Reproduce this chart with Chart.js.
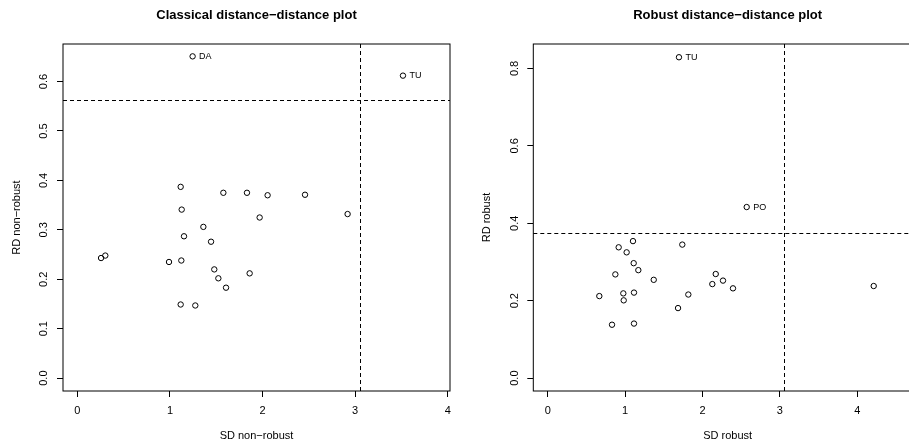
<!DOCTYPE html>
<html>
<head>
<meta charset="utf-8">
<script src="https://cdn.jsdelivr.net/npm/chart.js@4"></script>
<style>
  html, body { margin: 0; padding: 0; background: #fff; overflow: hidden; width: 909px; height: 443px; }
  #left { position: absolute; left: 0; top: 0; }
  #right { position: absolute; left: 460px; top: 0; }
</style>
</head>
<body>
<canvas id="left" width="460" height="443"></canvas>
<canvas id="right" width="472" height="443"></canvas>
<script>
// classical (non-robust) distances
const sdClassical = [1.245, 3.517, 1.116, 1.127, 1.577, 1.832, 2.055, 2.459, 2.919, 1.969, 1.361, 1.152,
  1.444, 0.256, 0.302, 0.990, 1.123, 1.479, 1.523, 1.861, 1.606, 1.116, 1.274];
const rdClassical = [0.651, 0.612, 0.387, 0.341, 0.375, 0.375, 0.370, 0.371, 0.332, 0.325, 0.306, 0.287,
  0.276, 0.243, 0.248, 0.235, 0.238, 0.220, 0.202, 0.212, 0.183, 0.149, 0.147];
const namesClassical = ['DA', 'TU'];

// robust distances
const sdRobust = [1.696, 2.571, 1.102, 0.917, 1.020, 1.739, 1.111, 1.171, 0.874, 1.370, 2.171, 2.265,
  2.127, 2.394, 4.212, 0.667, 0.977, 0.982, 1.115, 1.817, 1.684, 0.831, 1.115];
const rdRobust = [0.829, 0.442, 0.354, 0.338, 0.325, 0.345, 0.297, 0.279, 0.268, 0.254, 0.269, 0.252,
  0.243, 0.232, 0.238, 0.212, 0.219, 0.201, 0.221, 0.216, 0.181, 0.138, 0.141];
const namesRobust = ['TU', 'PO'];

// cutoffs
const sdCutoff = 3.057;
const rdCutoffClassical = 0.562;
const rdCutoffRobust = 0.375;

// tick labels
const xTicks = [0, 1, 2, 3, 4];
const yTicksClassical = [0.0, 0.1, 0.2, 0.3, 0.4, 0.5, 0.6];
const yTicksRobust = [0.0, 0.2, 0.4, 0.6, 0.8];

Chart.defaults.font.family = '"Liberation Sans", Arial, Helvetica, sans-serif';
Chart.defaults.color = '#000';

const ddPlugin = (names, xCut, yCut) => ({
  id: 'dd',
  beforeDatasetsDraw: (chart) => {
    const { ctx, chartArea: a, scales: { x, y } } = chart;
    const px = Math.round(x.getPixelForValue(xCut)) + 0.5;
    const py = Math.round(y.getPixelForValue(yCut)) + 0.5;
    ctx.save();
    ctx.strokeStyle = '#000';
    ctx.lineWidth = 1;
    ctx.setLineDash([4, 3]);
    ctx.beginPath();
    ctx.moveTo(px, a.top);
    ctx.lineTo(px, a.bottom);
    ctx.moveTo(a.left, py);
    ctx.lineTo(a.right, py);
    ctx.stroke();
    ctx.restore();
  },
  afterDatasetsDraw: (chart) => {
    const { ctx, chartArea: a } = chart;
    ctx.save();
    ctx.font = '9px "Liberation Sans", Arial, sans-serif';
    ctx.fillStyle = '#000';
    ctx.textBaseline = 'middle';
    chart.getDatasetMeta(0).data.forEach((pt, i) => {
      if (names[i]) ctx.fillText(names[i], pt.x + 6.5, pt.y);
    });
    ctx.strokeStyle = '#000';
    ctx.lineWidth = 1;
    ctx.strokeRect(a.left, a.top, a.right - a.left, a.bottom - a.top);
    ctx.restore();
  },
});

const generateChart = (id, o) => {
  new Chart(id, {
    type: 'scatter',
    data: {
      datasets: [
        {
          data: o.sd.map((x, i) => ({ x, y: o.rd[i] })),
          borderColor: '#000',
          backgroundColor: 'rgba(0,0,0,0)',
          pointRadius: 2.7,
          pointBorderWidth: 1,
        },
      ],
    },
    options: {
      responsive: false,
      animation: false,
      layout: { padding: { left: 0, right: o.padRight, top: 0, bottom: 0 } },
      plugins: {
        legend: { display: false },
        tooltip: { enabled: false },
        title: {
          display: true,
          text: o.title,
          fullSize: false,
          font: { size: 13, weight: 'bold' },
          padding: { top: 8, bottom: 20.4 },
        },
      },
      scales: {
        x: {
          type: 'linear',
          min: o.xMin,
          max: o.xMax,
          afterBuildTicks: (s) => { s.ticks = xTicks.map((v) => ({ value: v })); },
          afterFit: (s) => { s.height = 52; },
          grid: { display: true, drawOnChartArea: false, drawTicks: true, tickLength: 6, color: '#000' },
          border: { display: false },
          ticks: { font: { size: 11 }, padding: 7, callback: (v) => String(v) },
          title: { display: true, text: o.xLabel, font: { size: 11 }, padding: { top: 0, bottom: 0 } },
        },
        y: {
          type: 'linear',
          min: o.yMin,
          max: o.yMax,
          afterBuildTicks: (s) => { s.ticks = o.yTicks.map((v) => ({ value: v })); },
          afterFit: (s) => { s.width = o.yWidth; },
          grid: { display: true, drawOnChartArea: false, drawTicks: true, tickLength: 6, color: '#000' },
          border: { display: false },
          ticks: {
            font: { size: 11 },
            padding: 5,
            minRotation: 90,
            maxRotation: 90,
            crossAlign: 'center',
            callback: (v) => Number(v).toFixed(1),
          },
          title: { display: true, text: o.yLabel, font: { size: 11 }, padding: { top: o.yTitlePad, bottom: 0 } },
        },
      },
    },
    plugins: [ddPlugin(o.names, sdCutoff, o.rdCut)],
  });
};

generateChart('left', {
  sd: sdClassical, rd: rdClassical, names: namesClassical, rdCut: rdCutoffClassical,
  title: 'Classical distance\u2212distance plot',
  xLabel: 'SD non\u2212robust', yLabel: 'RD non\u2212robust',
  xMin: -0.155, xMax: 4.025, yMin: -0.026, yMax: 0.676,
  yTicks: yTicksClassical, yWidth: 63, yTitlePad: 10, padRight: 10,
});

generateChart('right', {
  sd: sdRobust, rd: rdRobust, names: namesRobust, rdCut: rdCutoffRobust,
  title: 'Robust distance\u2212distance plot',
  xLabel: 'SD robust', yLabel: 'RD robust',
  xMin: -0.186, xMax: 4.836, yMin: -0.0332, yMax: 0.8632,
  yTicks: yTicksRobust, yWidth: 73.3, yTitlePad: 20, padRight: 10,
});
</script>
</body>
</html>
